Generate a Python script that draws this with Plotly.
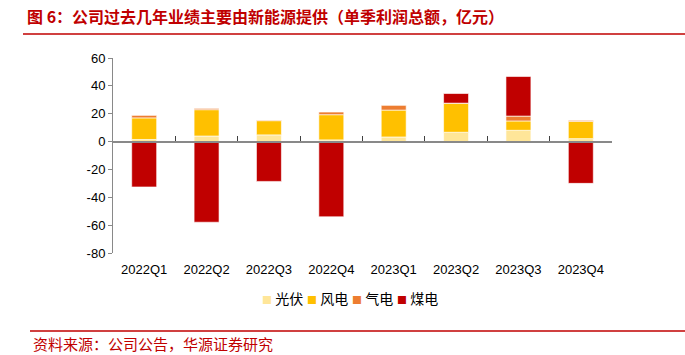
import plotly.graph_objects as go

quarters = ["2022Q1", "2022Q2", "2022Q3", "2022Q4", "2023Q1", "2023Q2", "2023Q3", "2023Q4"]
solar = [1.5, 4.0, 4.8, 1.2, 3.3, 6.7, 8.1, 2.1]
wind = [15.5, 18.9, 10.2, 18.1, 19.3, 20.9, 6.7, 12.4]
gas = [1.8, 0.9, 0.4, 1.9, 3.4, 0.0, 3.5, 0.7]
coal = [-32.6, -57.9, -28.6, -54.0, -0.7, 6.9, 28.4, -30.0]
y_ticks = [-80, -60, -40, -20, 0, 20, 40, 60]

series = [("光伏", solar, "#FFE699"), ("风电", wind, "#FFC000"),
          ("气电", gas, "#ED7D31"), ("煤电", coal, "#C00000")]

FONT = "Liberation Sans, Noto Sans CJK SC, Arial, sans-serif"
CJK = "Noto Sans CJK SC, sans-serif"

L, R, T, B = 113, 73, 58, 102
PW, PH = 685 - L - R, 355 - T - B


def px_x(x):
    return (x - L) / PW


def px_y(y):
    return (355 - B - y) / PH


fig = go.Figure()
for name, vals, col in series:
    fig.add_trace(go.Bar(x=quarters, y=vals, name=name, showlegend=False,
                         marker=dict(color=col, line=dict(color="rgba(255,255,255,0.6)", width=1))))

# invisible trace for the zero-line category axis with boundary ticks
fig.add_trace(go.Scatter(x=quarters, y=[0]*len(quarters), xaxis="x2", mode="markers",
                         marker=dict(opacity=0), showlegend=False, hoverinfo="skip"))

ymin, ymax = y_ticks[0], y_ticks[-1]
fig.update_layout(
    width=685, height=355,
    margin=dict(l=L, r=R, t=T, b=B, autoexpand=False),
    paper_bgcolor="white", plot_bgcolor="white",
    barmode="relative", bargap=0.6,
    font=dict(family=FONT, size=13, color="#000000"),
    xaxis=dict(showline=False, showgrid=False, ticks="", zeroline=False,
               tickfont=dict(size=13, family=FONT), ticklabelstandoff=7),
    xaxis2=dict(overlaying="x", matches="x", anchor="free",
                position=(0 - ymin) / (ymax - ymin),
                showline=True, linecolor="#898989", linewidth=2,
                ticks="inside", tickson="boundaries", ticklen=5, tickcolor="#404040", tickwidth=1,
                showticklabels=False, showgrid=False, zeroline=False),
    yaxis=dict(range=[ymin, ymax], tickvals=y_ticks, ticktext=[str(v) for v in y_ticks],
               showgrid=False, zeroline=False,
               showline=True, linecolor="#898989", linewidth=1,
               ticks="outside", ticklen=4, tickcolor="#898989",
               tickfont=dict(size=13, family=FONT)),
    showlegend=False,
)

# legend built from the series definitions
leg_x0, leg_step = 261, 45
for i, (name, vals, col) in enumerate(series):
    fig.add_annotation(text=f"<span style='color:{col};font-size:10px'>■</span> {name}",
                       xref="paper", yref="paper", x=px_x(leg_x0 + i * leg_step - 1), y=px_y(298),
                       xanchor="left", yanchor="middle", showarrow=False,
                       font=dict(size=14, family=CJK, color="#000000"))

fig.add_annotation(text="<b>图 6：公司过去几年业绩主要由新能源提供（单季利润总额，亿元）</b>",
                   xref="paper", yref="paper", x=px_x(25), y=px_y(16),
                   xanchor="left", yanchor="middle", showarrow=False,
                   font=dict(size=16, family=CJK, color="#C00000"))
fig.add_annotation(text="资料来源：公司公告，华源证券研究",
                   xref="paper", yref="paper", x=px_x(31), y=px_y(343),
                   xanchor="left", yanchor="middle", showarrow=False,
                   font=dict(size=15, family=CJK, color="#C00000"))
fig.add_shape(type="line", xref="paper", yref="paper",
              x0=px_x(23), x1=px_x(685), y0=px_y(34), y1=px_y(34),
              line=dict(color="#C00000", width=1.5))
fig.add_shape(type="line", xref="paper", yref="paper",
              x0=px_x(30), x1=px_x(685), y0=px_y(331), y1=px_y(331),
              line=dict(color="#C00000", width=1.5))

fig.write_html("out.html", config={"displayModeBar": False},
               post_script="document.body.style.margin='0';document.body.style.overflow='hidden';")
